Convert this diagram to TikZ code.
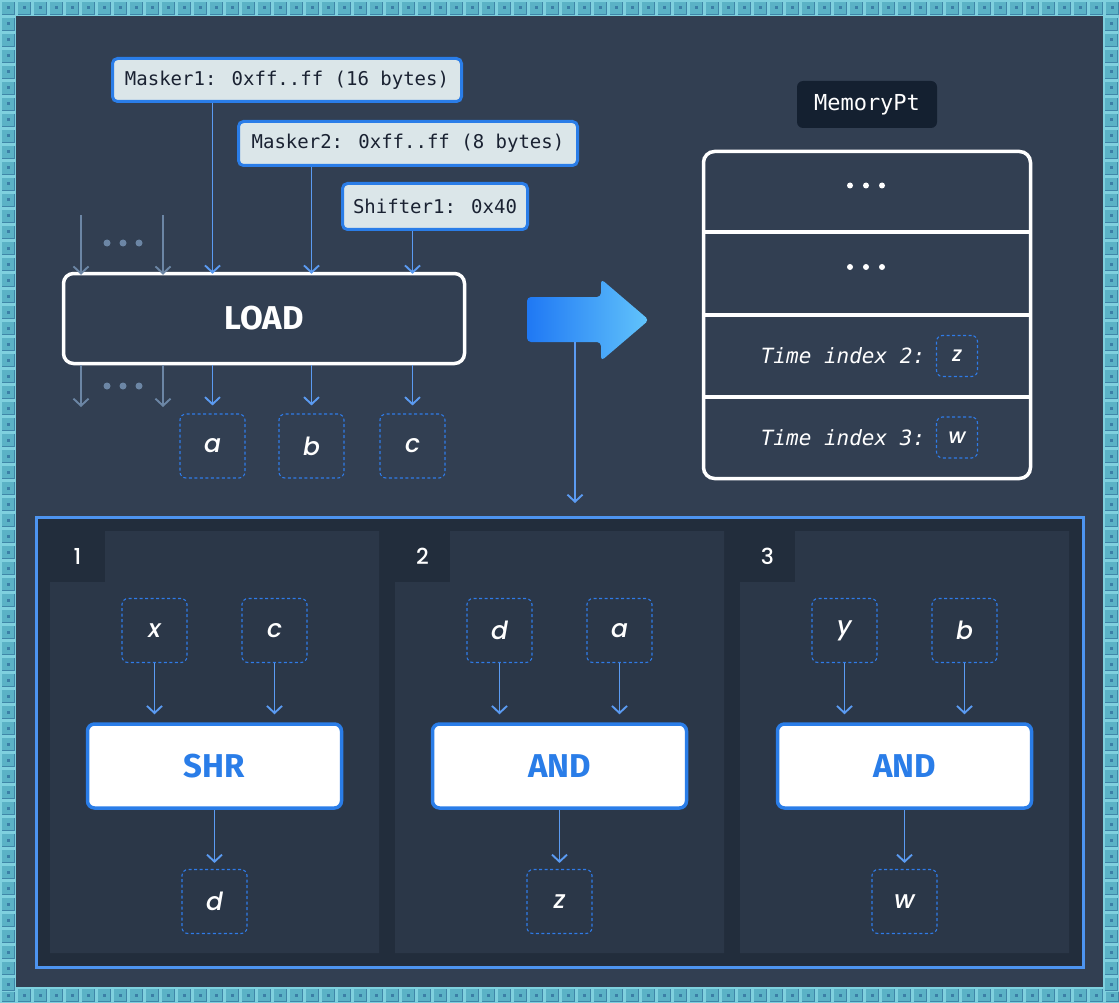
\documentclass[tikz,border=0pt]{standalone}
\usepackage{fontspec}
\setmainfont{DejaVu Sans}
\newfontfamily\monof{DejaVu Sans Mono}
\newfontfamily\opf{Fira Sans}
\IfFontExistsTF{Poppins Medium Italic}
  {\newfontfamily\varf{Poppins Medium}[ItalicFont=Poppins Medium Italic]}
  {\newfontfamily\varf{Poppins}}
\usetikzlibrary{arrows.meta,calc}
\definecolor{bgc}{HTML}{323F52}
\definecolor{tileA}{HTML}{7FD0DE}
\definecolor{tileD}{HTML}{3F86A8}
\definecolor{tileB}{HTML}{5BB2C6}
\definecolor{tileC}{HTML}{3B7FA6}
\definecolor{maskfill}{HTML}{DBE6E9}
\definecolor{blueB}{HTML}{2A7DE8}
\definecolor{arrowc}{HTML}{5B9BF2}
\definecolor{greyc}{HTML}{6C86A5}
\definecolor{dashc}{HTML}{2F7BE8}
\definecolor{outerf}{HTML}{222D3C}
\definecolor{outerd}{HTML}{4D94F0}
\definecolor{panelc}{HTML}{2B3748}
\definecolor{memptc}{HTML}{142030}
\definecolor{darktext}{HTML}{1A2232}
\definecolor{gradA}{HTML}{1F78F4}
\definecolor{gradB}{HTML}{62C4FB}
\tikzset{
  tile/.pic={
    \fill[tileA] (0,0) rectangle (16,16);
    \fill[tileD] (2,2) rectangle (15,15);
    \fill[tileB] (2,2) rectangle (14,14);
    \fill[tileC] (6.5,6.5) rectangle (9.5,9.5);
  },
  mask/.style={draw=blueB, line width=3pt, fill=maskfill, rounded corners=5pt,
    text=darktext, font=\monof\fontsize{19}{22}\selectfont, inner sep=0pt},
  var/.style={draw=dashc, dash pattern=on 3pt off 2.5pt, line width=1.1pt,
    rounded corners=6pt, minimum width=65pt, minimum height=64pt, inner sep=0pt,
    text=white, font=\varf\itshape\fontsize{25}{25}\selectfont},
  smallvar/.style={var, minimum width=41pt, minimum height=41pt,
    font=\varf\itshape\fontsize{21}{21}\selectfont},
  opbox/.style={draw=blueB, fill=white, line width=3.5pt, rounded corners=7pt,
    minimum width=254pt, minimum height=84pt, inner sep=0pt, text=blueB,
    font=\opf\bfseries\fontsize{33}{33}\selectfont},
  arr/.style={draw=arrowc, line width=1.9pt,
    -{Straight Barb[length=7pt,width=15pt,line width=1.9pt]}},
  garr/.style={arr, draw=greyc},
  numf/.style={text=white, font=\varf\fontsize{22}{22}\selectfont, inner sep=0pt},
  gdot/.style={circle, fill=greyc, inner sep=0pt, minimum size=7pt},
  wdot/.style={circle, fill=white, inner sep=0pt, minimum size=6pt},
  memtext/.style={text=white, font=\monof\itshape\fontsize{21}{21}\selectfont, inner sep=0pt},
}
\begin{document}
\begin{tikzpicture}[x=1pt,y=-1pt]
\useasboundingbox (0,0) rectangle (1119,1003);
% tiled frame
\foreach \i in {0,...,69} {\pic at (\i*16,0) {tile}; \pic at (\i*16,987) {tile};}
\foreach \j in {1,...,61} {\pic at (0,\j*16) {tile}; \pic at (1103,\j*16) {tile};}
\fill[bgc] (16,16) rectangle (1103,987);

% constants
\node[mask, minimum width=349pt, minimum height=43pt] (m1) at (287,80) {Masker1: 0xff..ff (16 bytes)};
\node[mask, minimum width=339pt, minimum height=44pt] (m2) at (408,143.5) {Masker2: 0xff..ff (8 bytes)};
\node[mask, minimum width=185pt, minimum height=46pt] (s1) at (435,206.5) {Shifter1: 0x40};

% LOAD
\node[draw=white, line width=3.5pt, rounded corners=10pt, minimum width=401pt,
  minimum height=90pt, inner sep=0pt, text=white,
  font=\opf\bfseries\fontsize{33}{33}\selectfont] (load) at (264,318.5) {LOAD};

\node[var] (a) at (212.5,446) {a};
\node[var] (b) at (311.5,446) {b};
\node[var] (c) at (412.5,446) {c};

\draw[arr] (m1.south -| a) -- ([yshift=-2pt]load.north -| a);
\draw[arr] (m2.south -| b) -- ([yshift=-2pt]load.north -| b);
\draw[arr] (s1.south -| c) -- ([yshift=-2pt]load.north -| c);
\draw[arr, shorten >=8pt] (load.south -| a) -- (a.north);
\draw[arr, shorten >=8pt] (load.south -| b) -- (b.north);
\draw[arr, shorten >=8pt] (load.south -| c) -- (c.north);

% grey arrows
\coordinate (g1) at (81,215);
\coordinate (g2) at (163,215);
\coordinate (g3) at (81,407);
\coordinate (g4) at (163,407);
\draw[garr] (g1) -- ([yshift=-3pt]g1 |- load.north);
\draw[garr] (g2) -- ([yshift=-3pt]g2 |- load.north);
\draw[garr] (g3 |- load.south) -- (g3);
\draw[garr] (g4 |- load.south) -- (g4);
\foreach \xx [count=\k] in {107,123,139} {
  \node[gdot] (gu\k) at (\xx,243) {};
  \node[gdot] (gl\k) at (\xx,386) {};
}

% big arrow
\shade[left color=gradA, right color=gradB, rounded corners=4pt]
  (527,297) -- (601,297) -- (601,279) -- (649,320) -- (601,361) -- (601,342) -- (527,342) -- cycle;
\coordinate (bafoot) at (575,342);

% MemoryPt
\node[fill=memptc, rounded corners=6pt, minimum width=140pt, minimum height=47pt,
  inner sep=0pt, text=white, font=\monof\fontsize{22}{22}\selectfont] (mpt) at (867,104.5) {MemoryPt};
\node[draw=white, line width=3.5pt, rounded corners=11pt, minimum width=327pt,
  minimum height=327pt, inner sep=0pt] (mem) at (867,315) {};
\foreach \yy in {232,315,397} \draw[white, line width=3.5pt] (mem.west |- 0,\yy) -- (mem.east |- 0,\yy);
\foreach \xx [count=\k] in {850,866,882} {
  \node[wdot] (ra\k) at (\xx,185.5) {};
  \node[wdot] (rb\k) at (\xx,267) {};
}
\node[memtext] (t2) at (843,356) {Time index 2:};
\node[smallvar] (z2) at (957,356) {z};
\node[memtext] (t3) at (843,438) {Time index 3:};
\node[smallvar] (w2) at (957,437.5) {w};

% bottom container
\node[draw=outerd, fill=outerf, line width=3pt, minimum width=1047pt,
  minimum height=450pt, inner sep=0pt] (outer) at (560,742.5) {};
\draw[arr, shorten >=13pt] (bafoot) -- (bafoot |- outer.north);

\foreach \o/\n in {0/1,345/2,690/3} {
  \fill[panelc] (105+\o,531) -- (379+\o,531) -- (379+\o,953) -- (50+\o,953)
     -- (50+\o,582) -- (105+\o,582) -- cycle;
  \node[numf] (num\n) at (77.5+\o,556.5) {\n};
}

% panel 1
\node[var] (p1x) at (154.5,630.5) {x};
\node[var] (p1c) at (274.5,630.5) {c};
\node[opbox] (shr) at (214.5,766) {SHR};
\node[var] (p1d) at (214.5,901.5) {d};
\draw[arr, shorten >=8pt] (p1x) -- (p1x |- shr.north);
\draw[arr, shorten >=8pt] (p1c) -- (p1c |- shr.north);
\draw[arr, shorten >=6pt] (shr) -- (p1d);

% panel 2
\node[var] (p2d) at (499.5,630.5) {d};
\node[var] (p2a) at (619.5,630.5) {a};
\node[opbox] (and1) at (559.5,766) {AND};
\node[var] (p2z) at (559.5,901.5) {z};
\draw[arr, shorten >=8pt] (p2d) -- (p2d |- and1.north);
\draw[arr, shorten >=8pt] (p2a) -- (p2a |- and1.north);
\draw[arr, shorten >=6pt] (and1) -- (p2z);

% panel 3
\node[var] (p3y) at (844.5,630.5) {y};
\node[var] (p3b) at (964.5,630.5) {b};
\node[opbox] (and2) at (904.5,766) {AND};
\node[var] (p3w) at (904.5,901.5) {w};
\draw[arr, shorten >=8pt] (p3y) -- (p3y |- and2.north);
\draw[arr, shorten >=8pt] (p3b) -- (p3b |- and2.north);
\draw[arr, shorten >=6pt] (and2) -- (p3w);
\end{tikzpicture}
\end{document}
